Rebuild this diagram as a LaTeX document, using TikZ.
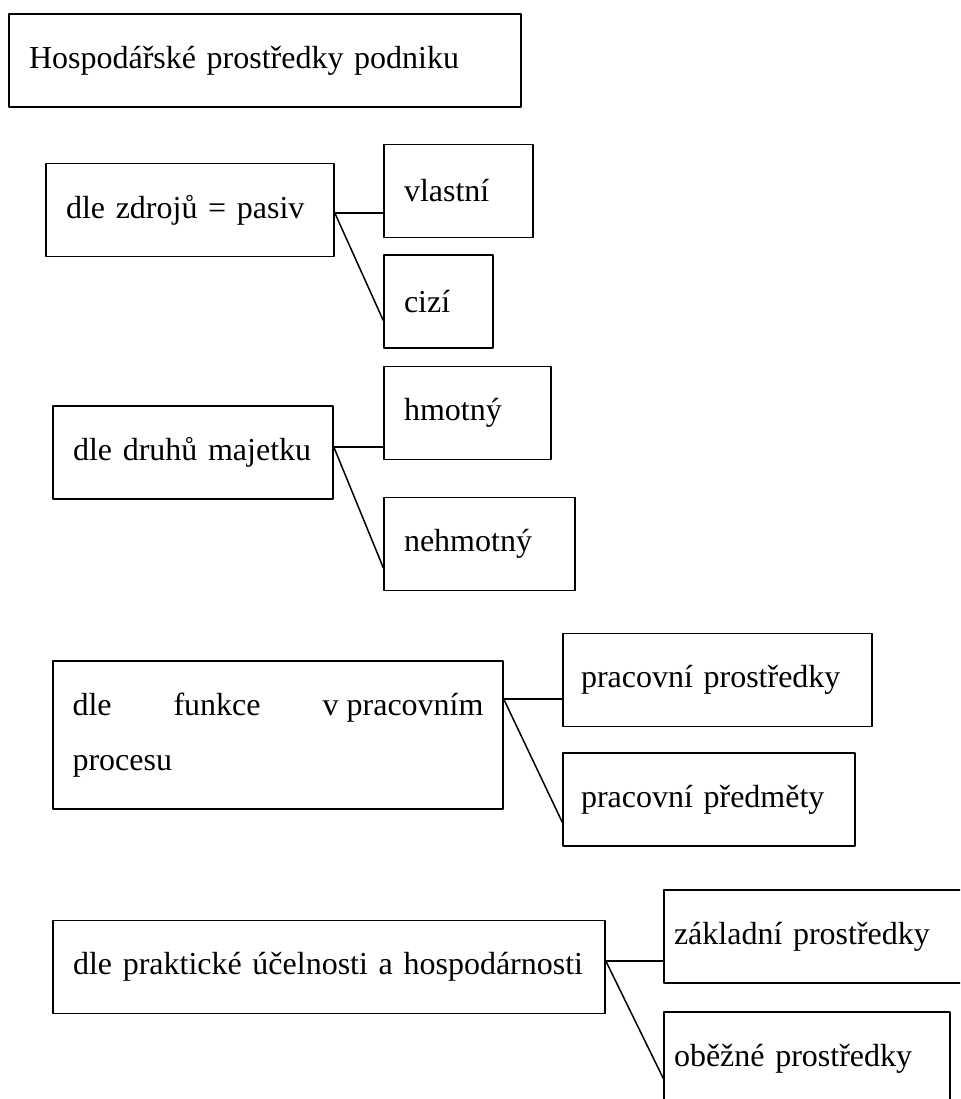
\documentclass[tikz,border=0pt]{standalone}
\usepackage{fontspec}
\setmainfont{Liberation Serif}
\usetikzlibrary{calc}

\begin{document}
\begin{tikzpicture}[x=0.5pt, y=-0.5pt, line join=round, line width=0.75pt,
	font=\fontsize{16}{18.4}\selectfont,
	box/.style={draw, rectangle, inner xsep=10pt, inner ysep=0pt, minimum height=46.5pt, text width=#1, align=left}]
	\useasboundingbox (0,0) rectangle (960,1099);
	\clip (0,0) rectangle (960,1099);
	\node[box=236pt] (hp) at (265,60.5) {Hospodářské prostředky podniku};
	% dle zdrojů
	\node[box=124pt] (zdroje) at (190,210) {dle zdrojů = pasiv};
	\node[box=54.5pt] (vlastni) at (458.5,191) {vlastní};
	\node[box=34.5pt] (cizi) at (438.5,301.5) {cizí};
	% dle druhů
	\node[box=120pt] (druhy) at (193,452.5) {dle druhů majetku};
	\node[box=63.5pt] (hmotny) at (467.5,413) {hmotný};
	\node[box=75.5pt] (nehmotny) at (479.5,544) {nehmotný};
	% dle funkce
	\node[box=205.5pt, inner xsep=9.75pt, minimum height=74pt, align=justify,
		font=\fontsize{16}{27.5}\selectfont] (funkce) at (278,735)
		{dle funkce \mbox{v pracovním}\linebreak procesu};
	\node[box=136.5pt, inner xsep=9pt] (prostredky) at (717.5,680) {pracovní prostředky};
	\node[box=128pt, inner xsep=9pt] (predmety) at (709,799.5) {pracovní předměty};
	% dle účelnosti
	\node[box=256pt] (ucelnost) at (329,967) {dle praktické účelnosti a hospodárnosti};
	\node[box=145.5pt, inner xsep=5pt] (zakladni) at (819.5,936.5) {základní prostředky};
	\node[box=133pt, inner xsep=5pt] (obezne) at (807,1058.5) {oběžné prostředky};

	\foreach \p/\a/\b/\f/\g in {zdroje/vlastni/cizi/0.53/0.70, druhy/hmotny/nehmotny/0.44/0.75,
		funkce/prostredky/predmety/0.26/0.74, ucelnost/zakladni/obezne/0.435/0.71}
	{
		\coordinate (j) at ($(\p.north east)!\f!(\p.south east)$);
		\draw (j) -- (j -| \a.west);
		\draw (j) -- ($(\b.north west)!\g!(\b.south west)$);
	}
\end{tikzpicture}
\end{document}
